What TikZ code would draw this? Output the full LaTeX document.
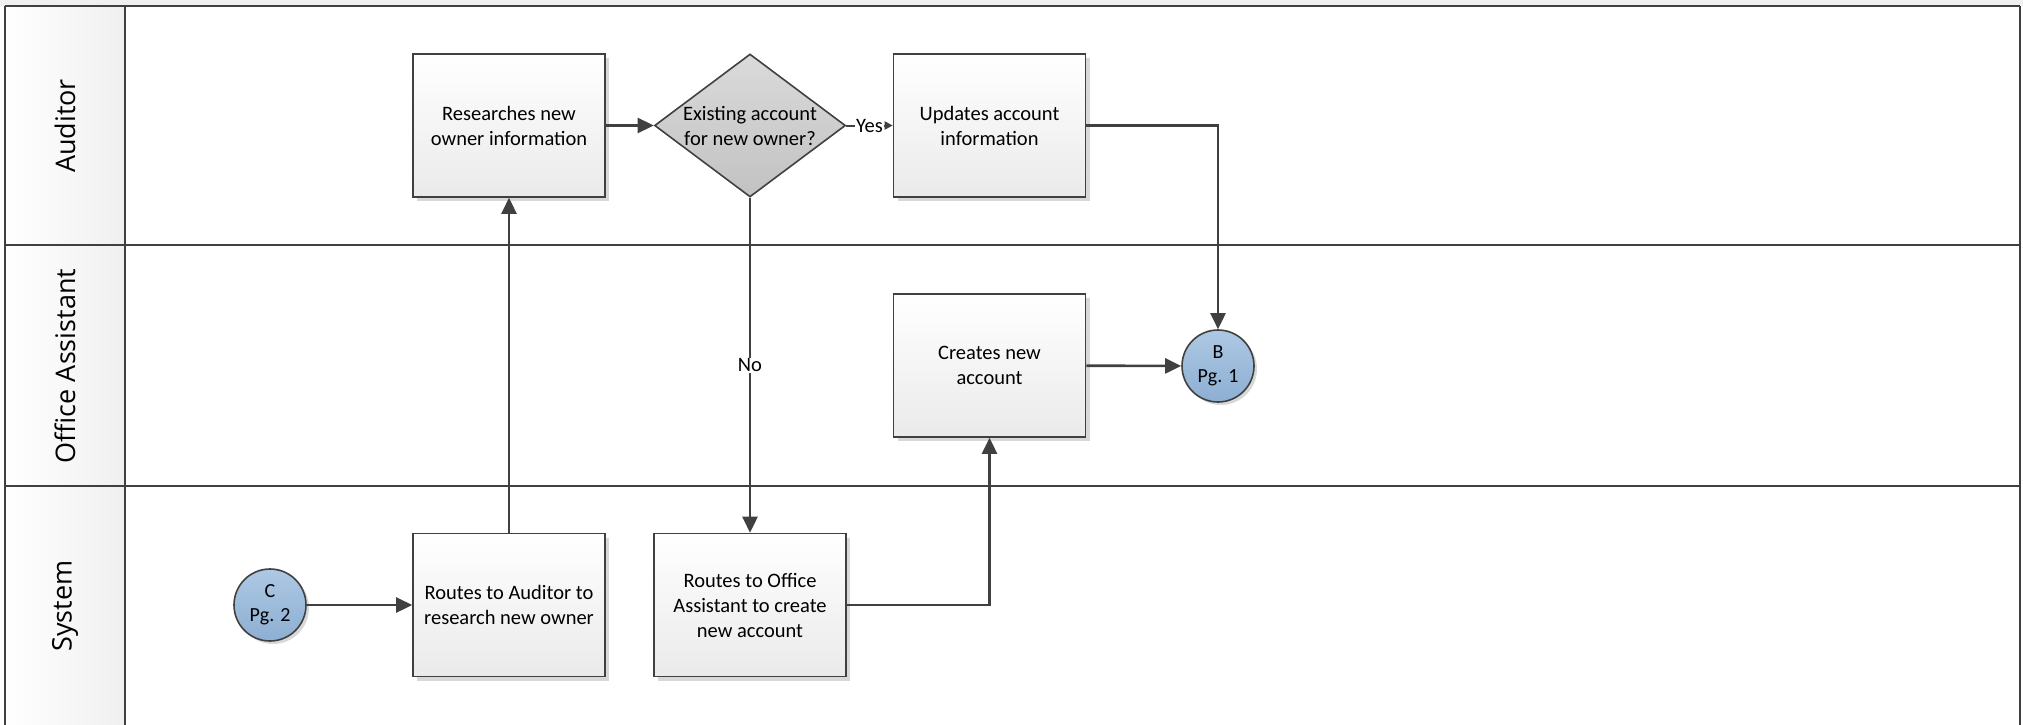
\documentclass[tikz,border=0pt]{standalone}
\usepackage{fontspec}
\setmainfont{Carlito}
\newfontfamily\lanefont{Open Sans}
\usetikzlibrary{shapes.geometric,arrows.meta,shadows}
\definecolor{ink}{HTML}{404040}
\definecolor{boxtop}{HTML}{FFFFFF}
\definecolor{boxbot}{HTML}{EAEAEA}
\definecolor{dtop}{HTML}{DADADA}
\definecolor{dbot}{HTML}{C2C2C2}
\definecolor{ctop}{HTML}{ADC8E3}
\definecolor{cbot}{HTML}{8DAFD3}
\definecolor{band}{HTML}{F0F0F0}
\definecolor{shad}{HTML}{D8D8D8}
\tikzset{
  lane/.style={draw=ink, line width=2.4pt},
  lanelabel/.style={font=\lanefont\fontsize{27}{32}\selectfont, rotate=90, text=black},
  process/.style={rectangle, draw=ink, line width=1.6pt, minimum width=192pt, minimum height=143pt,
    top color=boxtop, bottom color=boxbot, align=center, inner sep=0pt,
    font=\fontsize{20.5}{25}\selectfont,
    drop shadow={shadow xshift=4pt, shadow yshift=-4pt, fill=shad, opacity=1}},
  decision/.style={diamond, draw=ink, line width=1.6pt, minimum width=191pt, minimum height=143pt,
    inner sep=0pt, aspect=1.34, top color=dtop, bottom color=dbot},
  dtext/.style={align=center, inner sep=0pt, font=\fontsize{20.5}{25}\selectfont},
  connector/.style={circle, draw=ink, line width=1.6pt, minimum size=72pt, inner sep=0pt,
    top color=ctop, bottom color=cbot, align=center, font=\fontsize{20}{24}\selectfont,
    drop shadow={shadow xshift=3pt, shadow yshift=-3pt, fill=shad, opacity=1}},
  flow/.style={draw=ink, line width=2.6pt, -{Triangle[length=16pt,width=15pt]}},
  smallflow/.style={draw=ink, line width=2pt, -{Triangle[length=8pt,width=8pt]}},
  edgelabel/.style={fill=white, inner sep=1pt, font=\fontsize{20.5}{25}\selectfont}
}
\begin{document}
\begin{tikzpicture}[x=1pt,y=-1pt]
\useasboundingbox (0,0) rectangle (2023,725);
% top band
\fill[band] (0,0) rectangle (2023,6);
% label column shading
\shade[left color=white, right color=band] (5,6) rectangle (125,725);
% lanes
\draw[lane] (5,6) -- (2020,6);
\draw[lane] (5,245) -- (2020,245);
\draw[lane] (5,486) -- (2020,486);
\draw[lane] (5,6) -- (5,725);
\draw[lane] (125,6) -- (125,725);
\draw[lane] (2020,6) -- (2020,725);
% lane labels
\node[lanelabel] (lA) at (65,126) {Auditor};
\node[lanelabel] (lO) at (65,366) {Office Assistant};
\node[lanelabel] (lS) at (65,606) {System};
% nodes
\node[process] (res) at (509,125.5) {Researches new\\owner information};
\node[decision] (d) at (750,125.5) {};
\node[dtext] (dt) at (750,125.5) {Existing account\\for new owner?};
\node[process] (upd) at (989.5,125.5) {Updates account\\information};
\node[process] (cr) at (989.5,365.5) {Creates new\\account};
\node[connector] (B) at (1218,366) {B\\Pg. 1};
\node[connector] (C) at (270,605) {C\\Pg. 2};
\node[process] (ra) at (509,605) {Routes to Auditor to\\research new owner};
\node[process] (ro) at (750,605) {Routes to Office\\Assistant to create\\new account};
% connectors
\draw[flow] (C) -- (ra);
\draw[flow] (ra) -- (res);
\draw[flow] (res) -- (d.west);
\draw[smallflow] (d.east) -- node[edgelabel]{Yes} (upd);
\draw[flow] (upd.east) -| (B.north);
\draw[flow] (d.south) -- node[edgelabel]{No} (ro.north);
\draw[flow] (ro.east) -| (cr.south);
\draw[flow] (cr) -- (B);
\end{tikzpicture}
\end{document}
